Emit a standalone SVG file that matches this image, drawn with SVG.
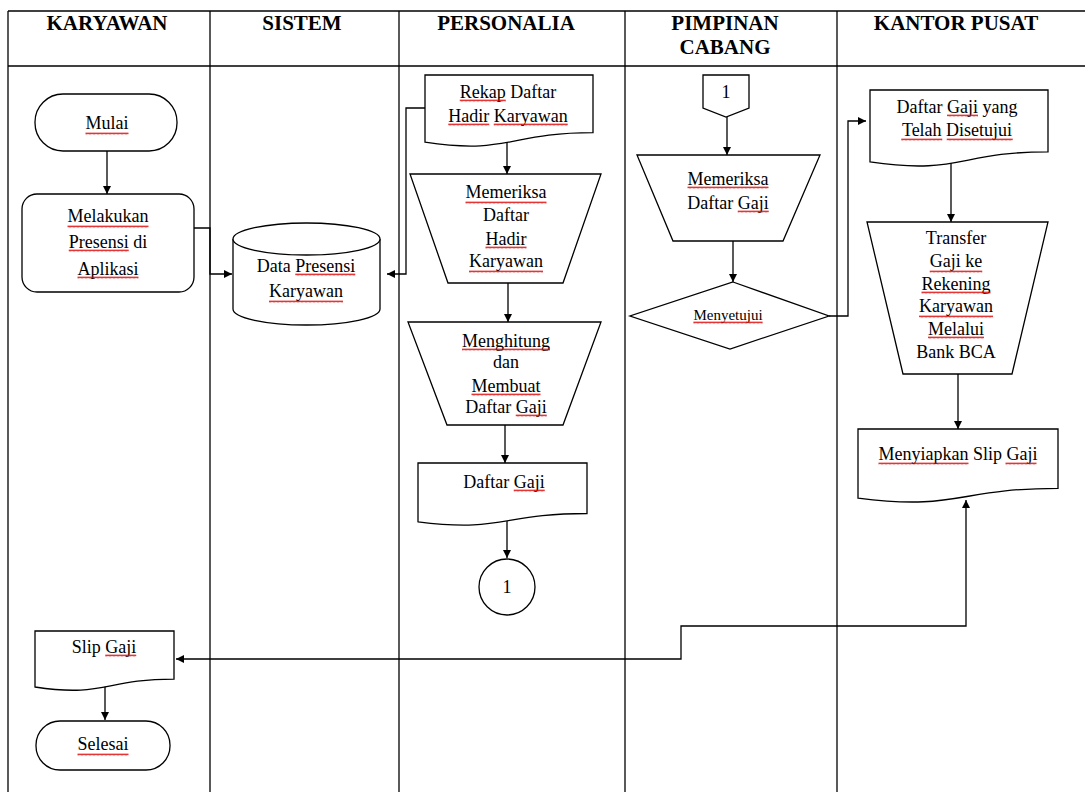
<svg xmlns="http://www.w3.org/2000/svg" width="1085" height="792" viewBox="0 0 1085 792">
<style>
.lane{stroke:#000;stroke-width:1.3;fill:none}
.hdr{font-family:"Liberation Serif",serif;font-weight:bold;font-size:21px;text-anchor:middle}
.shape{fill:#fff;stroke:#000;stroke-width:1.3}
.t{font-family:"Liberation Serif",serif;font-size:18px;text-anchor:middle}
.s{font-size:15px}
.con{fill:none;stroke:#000;stroke-width:1.3}
.sq{fill:url(#wv)}
</style>
<defs>
<marker id="ah" viewBox="0 0 10 10" refX="10" refY="5" markerWidth="8" markerHeight="8" markerUnits="userSpaceOnUse" orient="auto-start-reverse">
<path d="M0,0 L10,5 L0,10 z" fill="#000"/>
</marker>
<pattern id="wv" x="0" y="0" width="4" height="3" patternUnits="userSpaceOnUse">
<path d="M0,2.4 L1,0.6 L2,2.4 L3,0.6 L4,2.4" fill="none" stroke="#e00000" stroke-width="0.8"/>
</pattern>
</defs>
<rect width="1085" height="792" fill="#fff"/>
<g id="lanes">
<line class="lane" x1="8" y1="11" x2="1085" y2="11" stroke-width="2"/>
<line class="lane" x1="8" y1="66" x2="1085" y2="66" stroke-width="2"/>
<line class="lane" x1="8" y1="11" x2="8" y2="792"/>
<line class="lane" x1="210" y1="11" x2="210" y2="792"/>
<line class="lane" x1="399" y1="11" x2="399" y2="792"/>
<line class="lane" x1="625" y1="11" x2="625" y2="792"/>
<line class="lane" x1="837" y1="11" x2="837" y2="792"/>
<text class="hdr" x="107" y="30">KARYAWAN</text>
<text class="hdr" x="302" y="30">SISTEM</text>
<text class="hdr" x="506" y="30">PERSONALIA</text>
<text class="hdr" x="725" y="30">PIMPINAN</text>
<text class="hdr" x="725" y="54">CABANG</text>
<text class="hdr" x="956" y="30">KANTOR PUSAT</text>
</g>
<g id="connectors">
<line class="con" x1="107" y1="151" x2="107" y2="194" marker-end="url(#ah)"/>
<polyline class="con" points="194,228 210,228 210,274 232,274" marker-end="url(#ah)"/>
<polyline class="con" points="425,108 406,108 406,274 387,274" marker-end="url(#ah)"/>
<line class="con" x1="507" y1="142" x2="507" y2="174" marker-end="url(#ah)"/>
<line class="con" x1="508" y1="283" x2="508" y2="322" marker-end="url(#ah)"/>
<line class="con" x1="505" y1="425" x2="505" y2="463" marker-end="url(#ah)"/>
<line class="con" x1="507" y1="521" x2="507" y2="558" marker-end="url(#ah)"/>
<line class="con" x1="727" y1="117" x2="727" y2="155" marker-end="url(#ah)"/>
<line class="con" x1="733" y1="241" x2="733" y2="282" marker-end="url(#ah)"/>
<polyline class="con" points="829,316 848,316 848,121 866,121" marker-end="url(#ah)"/>
<line class="con" x1="951" y1="160" x2="951" y2="222" marker-end="url(#ah)"/>
<line class="con" x1="958" y1="374" x2="958" y2="429" marker-end="url(#ah)"/>
<polyline class="con" points="966,500 966,626 681,626 681,659 176,659" marker-start="url(#ah)" marker-end="url(#ah)"/>
<line class="con" x1="105" y1="686" x2="105" y2="720" marker-end="url(#ah)"/>
</g>
<g id="mulai">
<rect class="shape" x="35" y="94" width="142" height="57" rx="28"/>
<text class="t" x="107" y="129">Mulai</text>
<rect class="sq" x="85.5" y="132" width="43" height="3"/>
</g>
<g id="melakukan">
<rect class="shape" x="22" y="194" width="172" height="98" rx="15"/>
<text class="t" x="108" y="222">Melakukan</text>
<text class="t" x="108" y="248">Presensi di</text>
<text class="t" x="108" y="275">Aplikasi</text>
<rect class="sq" x="67.5" y="225" width="81" height="3"/>
<rect class="sq" x="68.75" y="249" width="60" height="3"/>
<rect class="sq" x="77.5" y="276" width="61" height="3"/>
</g>
<g id="data-presensi">
<path class="shape" d="M233,239 A73.5,16 0 0 1 380,239 V309 A73.5,16 0 0 1 233,309 Z"/>
<path class="shape" d="M233,239 A73.5,16 0 0 0 380,239" fill="none"/>
<text class="t" x="306" y="272">Data Presensi</text>
<text class="t" x="306" y="297">Karyawan</text>
<rect class="sq" x="295.25" y="273" width="60" height="3"/>
<rect class="sq" x="269" y="300" width="74" height="3"/>
</g>
<g id="rekap">
<path class="shape" d="M425,75 H593 V132.7 C509,132.7 509,154.8 425,142.2 Z"/>
<text class="t" x="508" y="98">Rekap Daftar</text>
<text class="t" x="508" y="122">Hadir Karyawan</text>
<rect class="sq" x="459.75" y="99" width="46" height="3"/>
<rect class="sq" x="448.25" y="123" width="41" height="3"/>
<rect class="sq" x="493.75" y="123" width="74" height="3"/>
</g>
<g id="memeriksa-hadir">
<polygon class="shape" points="410,174 601,174 563,283 448,283"/>
<text class="t" x="506" y="198">Memeriksa</text>
<text class="t" x="506" y="221">Daftar</text>
<text class="t" x="506" y="245">Hadir</text>
<text class="t" x="506" y="267">Karyawan</text>
<rect class="sq" x="465.5" y="201" width="81" height="3"/>
<rect class="sq" x="485.5" y="246" width="41" height="3"/>
<rect class="sq" x="469" y="270" width="74" height="3"/>
</g>
<g id="menghitung">
<polygon class="shape" points="408,322 601,322 563,425 447,425"/>
<text class="t" x="506" y="347">Menghitung</text>
<text class="t" x="506" y="368">dan</text>
<text class="t" x="506" y="392">Membuat</text>
<text class="t" x="506" y="413">Daftar Gaji</text>
<rect class="sq" x="462" y="348" width="88" height="3"/>
<rect class="sq" x="471.5" y="393" width="69" height="3"/>
<rect class="sq" x="515.75" y="414" width="31" height="3"/>
</g>
<g id="daftar-gaji">
<path class="shape" d="M418,463 H587 V513.5 C502.5,513.5 502.5,532.6 418,521.8 Z"/>
<text class="t" x="504" y="488">Daftar Gaji</text>
<rect class="sq" x="513.75" y="489" width="31" height="3"/>
</g>
<g id="connector-1">
<circle class="shape" cx="507" cy="587" r="28"/>
<text class="t" x="507" y="593">1</text>
</g>
<g id="offpage-1">
<polygon class="shape" points="703,75 749,75 749,108 726,117 703,108"/>
<text class="t" x="726" y="98">1</text>
</g>
<g id="memeriksa-gaji">
<polygon class="shape" points="637,155 820,155 783,241 673,241"/>
<text class="t" x="728" y="185">Memeriksa</text>
<text class="t" x="728" y="209">Daftar Gaji</text>
<rect class="sq" x="687.5" y="186" width="81" height="3"/>
<rect class="sq" x="737.75" y="210" width="31" height="3"/>
</g>
<g id="menyetujui">
<polygon class="shape" points="733,282 829,316 730,349 630,316"/>
<text class="t s" x="728" y="320">Menyetujui</text>
<rect class="sq" x="693.4" y="321" width="69.2" height="3"/>
</g>
<g id="daftar-gaji-disetujui">
<path class="shape" d="M870,90 H1048 V151.8 C959,151.8 959,175.3 870,161.9 Z"/>
<text class="t" x="957" y="113">Daftar Gaji yang</text>
<text class="t" x="957" y="136">Telah Disetujui</text>
<rect class="sq" x="947" y="114" width="31" height="3"/>
<rect class="sq" x="901.25" y="138" width="41" height="3"/>
<rect class="sq" x="946.75" y="138" width="66" height="3"/>
</g>
<g id="transfer">
<polygon class="shape" points="867,222 1048,222 1012,374 903,374"/>
<text class="t" x="956" y="244">Transfer</text>
<text class="t" x="956" y="267">Gaji ke</text>
<text class="t" x="956" y="290">Rekening</text>
<text class="t" x="956" y="312">Karyawan</text>
<text class="t" x="956" y="335">Melalui</text>
<text class="t" x="956" y="358">Bank BCA</text>
<rect class="sq" x="929.75" y="270" width="52.5" height="3"/>
<rect class="sq" x="921.5" y="291" width="69" height="3"/>
<rect class="sq" x="919" y="315" width="74" height="3"/>
<rect class="sq" x="928" y="336" width="56" height="3"/>
</g>
<g id="menyiapkan">
<path class="shape" d="M858,429 H1058 V488.3 C958,488.3 958,510.9 858,498.1 Z"/>
<text class="t" x="958" y="460">Menyiapkan Slip Gaji</text>
<rect class="sq" x="878.5" y="462" width="90" height="3"/>
<rect class="sq" x="1005.5" y="462" width="31" height="3"/>
</g>
<g id="slip-gaji">
<path class="shape" d="M35,631 H174 V679.1 C104.5,679.1 104.5,697.5 35,687 Z"/>
<text class="t" x="104" y="653">Slip Gaji</text>
<rect class="sq" x="105.25" y="654" width="31" height="3"/>
</g>
<g id="selesai">
<rect class="shape" x="36" y="721" width="134" height="49" rx="24"/>
<text class="t" x="103" y="750">Selesai</text>
<rect class="sq" x="77.5" y="753" width="51" height="3"/>
</g>
</svg>
